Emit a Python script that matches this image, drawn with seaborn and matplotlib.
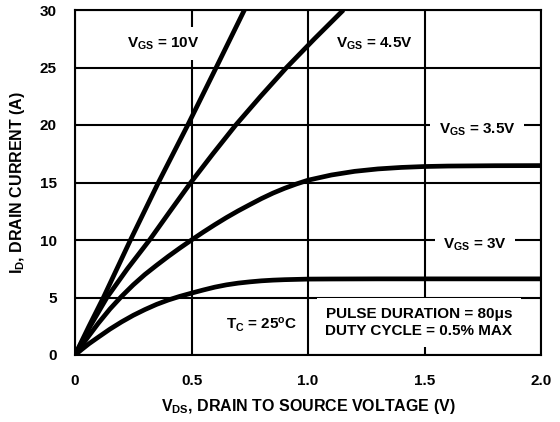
import matplotlib
matplotlib.use("Agg")
import matplotlib.pyplot as plt
import seaborn as sns
import pandas as pd

# ---- data ----
vds_10 = [0, 0.06, 0.122, 0.18, 0.238, 0.358, 0.484, 0.606, 0.727]
id_10 = [0, 2.5, 5, 7.5, 10, 15, 20, 25, 30]

vds_45 = [0, 0.065, 0.137, 0.225, 0.32, 0.408, 0.497, 0.592, 0.69, 0.797, 0.908, 1.028, 1.152]
id_45 = [0, 2.5, 5, 7.5, 10, 12.5, 15, 17.5, 20, 22.5, 25, 27.5, 30]

vds_35 = [0, 0.03, 0.06, 0.1, 0.15, 0.2, 0.25, 0.3, 0.35, 0.4, 0.45, 0.5, 0.55, 0.6,
          0.65, 0.7, 0.75, 0.8, 0.85, 0.9, 0.95, 1.0, 1.1, 1.2, 1.3, 1.4, 1.5, 1.6, 1.8, 2.0]
id_35 = [0, 0.85, 1.68, 2.76, 4.0, 5.1, 6.1, 7.0, 7.8, 8.57, 9.3, 10.0, 10.68, 11.33,
         11.95, 12.53, 13.07, 13.6, 14.08, 14.5, 14.87, 15.2, 15.65, 15.97, 16.18, 16.31,
         16.39, 16.43, 16.46, 16.47]

vds_3 = [0, 0.03, 0.06, 0.1, 0.15, 0.2, 0.25, 0.3, 0.35, 0.4, 0.45, 0.5, 0.55, 0.6,
         0.65, 0.7, 0.75, 0.8, 0.85, 0.9, 1.0, 1.1, 1.3, 2.0]
id_3 = [0, 0.5, 0.98, 1.55, 2.25, 2.88, 3.45, 3.95, 4.4, 4.78, 5.1, 5.38, 5.65, 5.9,
        6.1, 6.25, 6.36, 6.45, 6.51, 6.55, 6.6, 6.61, 6.62, 6.62]

x_ticks = [0, 0.5, 1.0, 1.5, 2.0]
x_tick_labels = ["0", "0.5", "1.0", "1.5", "2.0"]
y_ticks = [0, 5, 10, 15, 20, 25, 30]

sns.set_theme(style="white")
plt.rcParams["font.family"] = ["Liberation Sans", "DejaVu Sans"]
plt.rcParams["font.weight"] = "bold"
plt.rcParams["mathtext.fontset"] = "custom"
plt.rcParams["mathtext.rm"] = "Liberation Sans:bold"
plt.rcParams["mathtext.it"] = "Liberation Sans:bold"
plt.rcParams["mathtext.bf"] = "Liberation Sans:bold"

frames = []
for name, xs, ys in [("10V", vds_10, id_10), ("4.5V", vds_45, id_45),
                     ("3.5V", vds_35, id_35), ("3V", vds_3, id_3)]:
    frames.append(pd.DataFrame({"vds": xs, "id": ys, "vgs": name}))
df = pd.concat(frames, ignore_index=True)

fig = plt.figure(figsize=(5.6, 4.22), dpi=100)
ax = fig.add_axes([75 / 560, 67 / 422, 466 / 560, 345 / 422])

ax.set_xlim(0, 2.0)
ax.set_ylim(0, 30)
ax.set_xticks(x_ticks)
ax.set_xticklabels(x_tick_labels)
ax.set_yticks(y_ticks)
ax.grid(True, color="black", linewidth=1.5)
ax.set_axisbelow(True)
for s in ax.spines.values():
    s.set_color("black")
    s.set_linewidth(1.5)
ax.tick_params(axis="both", length=0, labelsize=11, colors="black")
ax.tick_params(axis="y", pad=13)
ax.tick_params(axis="x", pad=14)
for lab in ax.get_xticklabels() + ax.get_yticklabels():
    lab.set_fontweight("bold")

sns.lineplot(data=df, x="vds", y="id", units="vgs", estimator=None, sort=False,
             color="black", linewidth=3.4, ax=ax, zorder=5,
             solid_capstyle="butt", solid_joinstyle="round")

ax.set_xlabel(r"$V_{DS}$, DRAIN TO SOURCE VOLTAGE (V)", fontsize=11.5,
              fontweight="bold", labelpad=6, color="black")
ax.set_ylabel(r"$I_D$, DRAIN CURRENT (A)", fontsize=11.5, fontweight="bold",
              labelpad=9, color="black")

box = dict(boxstyle="square,pad=0.55", facecolor="white", edgecolor="none")
kw = dict(fontsize=11, fontweight="bold", ha="center", va="center",
          color="black", zorder=4, bbox=box)
ax.text(0.378, 27.1, r"$V_{GS}$ = 10V", **kw)
ax.text(1.283, 27.1, r"$V_{GS}$ = 4.5V", **kw)
ax.text(1.725, 19.6, r"$V_{GS}$ = 3.5V", **kw)
ax.text(1.717, 9.6, r"$V_{GS}$ = 3V", **kw)
ax.text(0.80, 2.6, r"$T_C$ = 25$^{\mathrm{o}}$C", **kw)
ax.text(1.476, 2.83, "PULSE DURATION = 80\u03bcs\nDUTY CYCLE = 0.5% MAX",
        linespacing=1.3, **kw)

fig.savefig("out.png", dpi=100)
